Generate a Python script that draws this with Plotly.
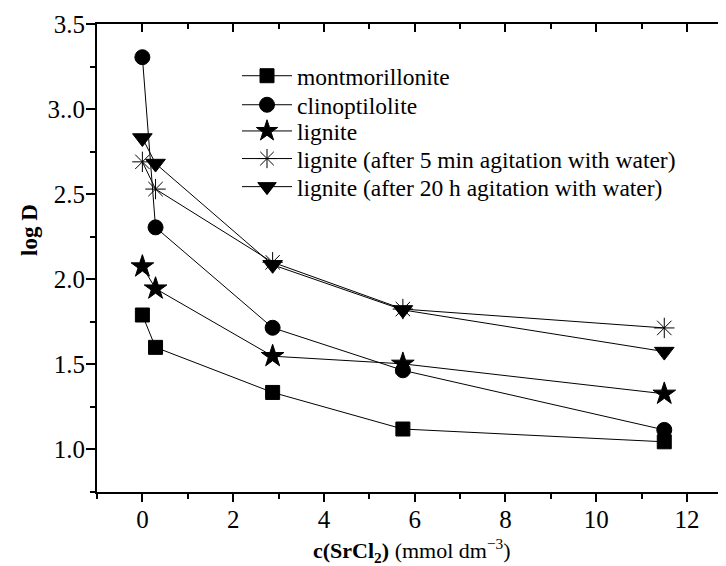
import plotly.graph_objects as go

# concentration of SrCl2 (mmol dm-3)
conc = [0.0, 0.29, 2.87, 5.74, 11.5]

# log D values
montmorillonite = [1.79, 1.60, 1.335, 1.12, 1.045]
clinoptilolite = [3.305, 2.305, 1.715, 1.465, 1.115]
lignite = [2.075, 1.945, 1.548, 1.503, 1.327]
lignite_5min = [2.69, 2.53, 2.10, 1.825, 1.714]
lignite_20h = [2.83, 2.68, 2.085, 1.82, 1.575]

series_names = [
    "montmorillonite",
    "clinoptilolite",
    "lignite",
    "lignite (after 5 min agitation with water)",
    "lignite (after 20 h agitation with water)",
]
series_values = [montmorillonite, clinoptilolite, lignite, lignite_5min, lignite_20h]
symbols = ["square", "circle", "star", "asterisk-open", "triangle-down"]
sizes = [14, 15, 17, 17, 17]

ytick_vals = [1.0, 1.5, 2.0, 2.5, 3.0, 3.5]
ytick_text = ["1.0", "1.5", "2.0", "2.5", "3..0", "3.5"]
xtick_vals = [0, 2, 4, 6, 8, 10, 12]

FONT = "Liberation Serif, Times New Roman, serif"
XR = [-1, 12.86]
YR = [0.75, 3.5]

# one legend per entry so the row spacing can match the original
legend_ids = ["legend", "legend2", "legend3", "legend4", "legend5"]
legend_rows = [0.889, 0.827, 0.771, 0.712, 0.652]

fig = go.Figure()
for name, vals, sym, sz, lg in zip(series_names, series_values, symbols, sizes, legend_ids):
    fig.add_trace(
        go.Scatter(
            x=conc,
            y=vals,
            name=name,
            legend=lg,
            showlegend=True,
            mode="lines+markers",
            line=dict(color="black", width=1),
            marker=dict(symbol=sym, size=sz, color="black",
                        line=dict(color="black", width=1)),
        )
    )

# empty trace so the top/right mirror axes get drawn
fig.add_trace(go.Scatter(x=[], y=[], xaxis="x2", yaxis="y2", showlegend=False))

axis_common = dict(
    showgrid=False,
    zeroline=False,
    showline=True,
    linecolor="black",
    linewidth=2,
    tickcolor="black",
    tickwidth=2,
    automargin=False,
)

legends = {}
for lg, yy in zip(legend_ids, legend_rows):
    legends[lg] = dict(
        x=0.2226,
        y=yy,
        xanchor="left",
        yanchor="middle",
        bgcolor="rgba(0,0,0,0)",
        font=dict(size=23.5, family=FONT),
        itemwidth=50,
    )

# page body has an 8px margin, so the figure is 8px smaller than the window
fig.update_layout(
    width=718,
    height=558,
    showlegend=True,
    paper_bgcolor="white",
    plot_bgcolor="white",
    margin=dict(l=89, r=0, t=16, b=74),
    font=dict(family=FONT, color="black", size=22),
    xaxis=dict(
        range=XR,
        tickvals=xtick_vals,
        ticks="outside",
        ticklen=8,
        ticklabelstandoff=-4,
        minor=dict(dtick=1, tick0=0, ticks="outside", ticklen=5,
                   tickcolor="black", tickwidth=2),
        tickfont=dict(size=25),
        **axis_common,
    ),
    yaxis=dict(
        range=YR,
        tickvals=ytick_vals,
        ticktext=ytick_text,
        ticks="outside",
        ticklen=9,
        ticklabelstandoff=-4,
        minor=dict(dtick=0.25, tick0=0.75, ticks="outside", ticklen=5,
                   tickcolor="black", tickwidth=2),
        tickfont=dict(size=25),
        **axis_common,
    ),
    xaxis2=dict(
        range=XR,
        overlaying="x",
        side="top",
        anchor="y",
        showticklabels=False,
        tickvals=xtick_vals,
        ticks="inside",
        ticklen=8,
        minor=dict(dtick=1, tick0=0, ticks="inside", ticklen=5,
                   tickcolor="black", tickwidth=2),
        **axis_common,
    ),
    yaxis2=dict(
        range=YR,
        overlaying="y",
        side="right",
        anchor="x",
        showticklabels=False,
        tickvals=ytick_vals,
        ticks="inside",
        ticklen=5,
        minor=dict(dtick=0.25, tick0=0.75, ticks="inside", ticklen=3,
                   tickcolor="black", tickwidth=2),
        **axis_common,
    ),
    annotations=[
        dict(
            text="<b>log D</b>",
            xref="paper", yref="paper",
            x=-0.1065, y=0.56,
            xanchor="center", yanchor="middle",
            textangle=-90,
            showarrow=False,
            font=dict(size=23, family=FONT),
        ),
        dict(
            text="<b>c(SrCl<sub>2</sub>)</b> (mmol dm<sup>\u22123</sup>)",
            xref="paper", yref="paper",
            x=0.5, y=-0.124,
            xanchor="center", yanchor="middle",
            showarrow=False,
            font=dict(size=22, family=FONT),
        ),
    ],
    **legends,
)

fig.write_html("out.html")
